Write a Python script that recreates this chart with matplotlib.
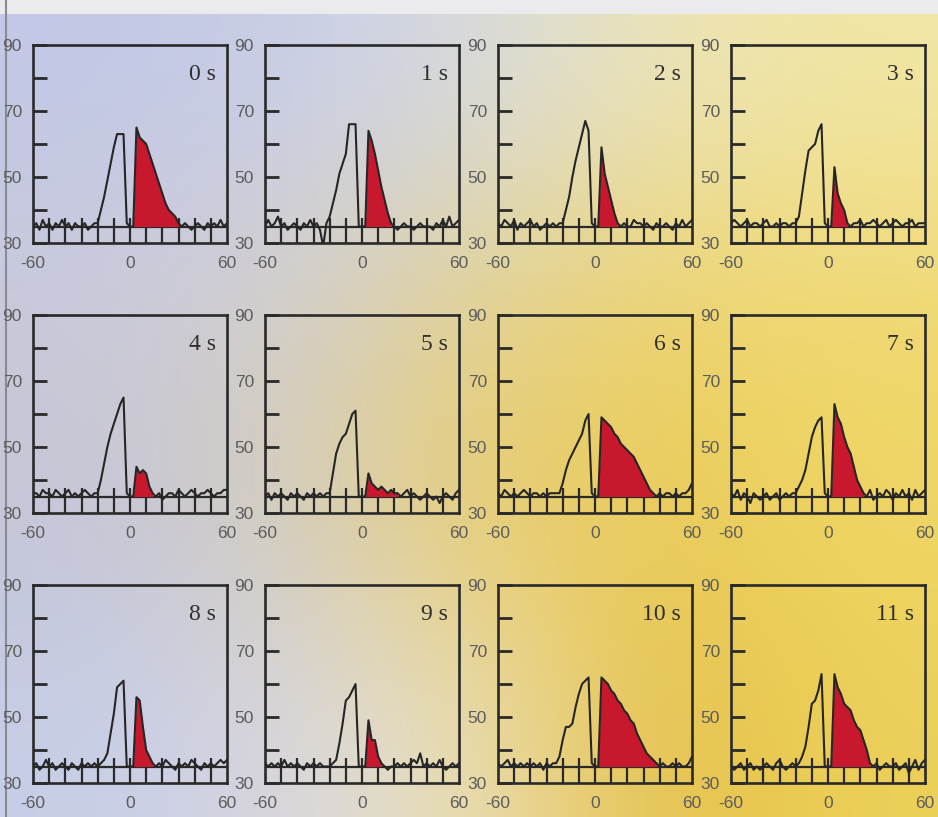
import numpy as np
import matplotlib.pyplot as plt
from matplotlib.patches import Rectangle

# time bins (s) from -60 to 60, step 2
x = np.arange(-60, 61, 2)

labels = ['0 s', '1 s', '2 s', '3 s', '4 s', '5 s', '6 s', '7 s', '8 s', '9 s', '10 s', '11 s']

# end of the filled (red) response for each panel
resp_end = [30, 18, 14, 12, 14, 22, 36, 22, 14, 12, 38, 26]

rate_0 = [35, 36, 34, 37, 35, 36, 34, 36, 35, 37,
          35, 36, 34, 36, 35, 35, 36, 34, 35, 36,
          36, 40, 44, 49, 54, 59, 63, 63, 63, 36,
          35, 35, 65, 62, 61, 60, 57, 54, 51, 48,
          45, 42, 40, 39, 38, 36, 35, 36, 35, 34,
          35, 36, 35, 34, 36, 35, 36, 35, 37, 35,
          36]
rate_1 = [35, 37, 35, 36, 38, 35, 36, 34, 35, 36,
          35, 34, 36, 35, 37, 35, 36, 34, 29, 36,
          38, 42, 46, 51, 54, 57, 66, 66, 66, 35,
          35, 35, 64, 61, 57, 52, 47, 43, 39, 36,
          35, 34, 35, 36, 35, 35, 34, 35, 36, 35,
          35, 35, 34, 36, 35, 37, 35, 38, 35, 36,
          37]
rate_2 = [36, 35, 37, 36, 35, 37, 34, 36, 35, 36,
          37, 35, 36, 34, 35, 36, 35, 36, 35, 36,
          36, 40, 44, 50, 55, 59, 63, 67, 64, 36,
          35, 35, 59, 51, 47, 43, 39, 36, 35, 36,
          35, 35, 37, 36, 36, 35, 36, 35, 34, 36,
          35, 35, 36, 35, 34, 36, 35, 37, 35, 36,
          37]
rate_3 = [36, 37, 36, 35, 36, 37, 35, 36, 36, 35,
          36, 37, 35, 35, 36, 35, 36, 36, 35, 36,
          36, 38, 45, 52, 58, 59, 60, 64, 66, 36,
          35, 35, 53, 45, 42, 40, 36, 35, 36, 36,
          37, 35, 36, 36, 37, 36, 35, 36, 37, 35,
          36, 37, 36, 35, 36, 36, 37, 35, 36, 36,
          36]
rate_4 = [36, 36, 35, 37, 36, 36, 35, 37, 36, 35,
          36, 37, 35, 36, 35, 36, 37, 36, 35, 36,
          36, 40, 45, 50, 54, 57, 60, 63, 65, 36,
          35, 35, 44, 42, 43, 42, 38, 36, 35, 36,
          34, 35, 36, 36, 35, 37, 36, 35, 36, 37,
          36, 35, 36, 36, 37, 36, 35, 36, 36, 37,
          37]
rate_5 = [35, 36, 34, 36, 35, 36, 35, 34, 36, 35,
          36, 35, 34, 36, 35, 36, 35, 36, 35, 36,
          36, 42, 48, 51, 53, 54, 57, 60, 61, 35,
          35, 35, 42, 39, 38, 37, 38, 37, 36, 37,
          36, 36, 35, 36, 37, 35, 36, 35, 34, 35,
          36, 35, 34, 35, 33, 35, 36, 35, 34, 36,
          37]
rate_6 = [36, 35, 37, 36, 35, 36, 35, 36, 37, 36,
          35, 36, 36, 35, 36, 35, 36, 36, 36, 36,
          39, 43, 46, 48, 50, 52, 54, 58, 60, 36,
          35, 35, 59, 58, 57, 56, 54, 53, 51, 50,
          49, 48, 47, 45, 43, 41, 39, 37, 36, 35,
          36, 35, 36, 36, 35, 36, 35, 36, 36, 37,
          39]
rate_7 = [36, 35, 37, 34, 36, 35, 33, 36, 35, 34,
          35, 36, 34, 35, 36, 34, 35, 36, 35, 36,
          36, 38, 40, 43, 48, 53, 56, 58, 59, 36,
          35, 35, 63, 59, 57, 53, 50, 48, 44, 40,
          38, 36, 35, 37, 34, 35, 36, 35, 37, 36,
          34, 36, 35, 37, 35, 36, 34, 37, 35, 36,
          37]
rate_8 = [35, 36, 34, 35, 37, 35, 36, 34, 35, 36,
          35, 34, 36, 35, 34, 36, 35, 36, 35, 36,
          35, 36, 37, 39, 45, 51, 59, 60, 61, 35,
          35, 35, 56, 55, 47, 40, 38, 36, 35, 36,
          35, 37, 36, 35, 34, 36, 35, 36, 35, 37,
          36, 35, 34, 36, 35, 36, 35, 36, 37, 36,
          37]
rate_9 = [36, 35, 36, 35, 36, 35, 37, 35, 36, 35,
          36, 35, 34, 36, 35, 36, 35, 36, 35, 35,
          35, 36, 37, 42, 48, 55, 56, 58, 60, 35,
          35, 35, 49, 43, 43, 38, 36, 35, 34, 35,
          35, 36, 35, 36, 35, 36, 37, 36, 39, 35,
          36, 35, 36, 35, 37, 35, 34, 35, 36, 35,
          36]
rate_10 = [36, 35, 36, 37, 35, 36, 35, 36, 35, 36,
           35, 36, 35, 36, 34, 36, 35, 36, 36, 38,
           43, 47, 47, 48, 53, 57, 60, 61, 62, 36,
           35, 35, 62, 61, 60, 58, 57, 55, 54, 52,
           51, 49, 48, 45, 43, 41, 39, 38, 37, 36,
           35, 36, 35, 35, 36, 35, 36, 35, 35, 36,
           38]
rate_11 = [35, 34, 35, 36, 34, 35, 36, 34, 35, 34,
           35, 36, 35, 34, 36, 37, 35, 34, 35, 36,
           35, 36, 38, 41, 47, 54, 55, 58, 63, 35,
           35, 35, 63, 59, 57, 54, 53, 52, 49, 47,
           46, 43, 40, 36, 35, 36, 34, 35, 36, 35,
           35, 36, 34, 35, 36, 33, 35, 37, 34, 36,
           37]

rates = [rate_0, rate_1, rate_2, rate_3, rate_4, rate_5,
         rate_6, rate_7, rate_8, rate_9, rate_10, rate_11]

baseline = 35
comb_x = [-50, -40, -30, -20, -10, 0, 10, 20, 30, 40, 50]

W, H = 938, 817
fig = plt.figure(figsize=(W / 100, H / 100), dpi=100)

# scanned-page background: blue-lavender on the left, yellow on the right
bg = np.array([
    [[194, 200, 230], [200, 205, 232], [214, 218, 226], [236, 228, 185], [241, 230, 165]],
    [[202, 202, 218], [212, 208, 208], [228, 210, 145], [236, 210, 105], [240, 216, 112]],
    [[196, 196, 214], [210, 204, 190], [232, 204, 108], [234, 202, 88], [240, 214, 100]],
    [[198, 206, 232], [216, 214, 226], [236, 226, 186], [228, 190, 70], [236, 208, 90]],
]) / 255.0
bg_ax = fig.add_axes([0, 0, 1, 1], zorder=-10)
bg_ax.imshow(bg, extent=[0, 1, 0, 1], aspect='auto', interpolation='bicubic')
bg_ax.set_xlim(0, 1)
bg_ax.set_ylim(0, 1)
bg_ax.axis('off')
bg_ax.add_patch(Rectangle((0, 1 - 14 / H), 1, 14 / H, color='#ebebee', lw=0))
bg_ax.axvline(6 / W, color='#8a8a96', lw=1.5)

col_left = [33, 265, 498, 731]
row_top = [45, 315, 585]
pw, ph = 194, 198

for i in range(12):
    r, c = divmod(i, 4)
    ax = fig.add_axes([col_left[c] / W, (H - row_top[r] - ph) / H, pw / W, ph / H])
    ax.set_facecolor('none')
    y = np.array(rates[i])

    mask = (x >= 2) & (x <= resp_end[i])
    ax.fill_between(x, baseline, y, where=mask, color='#c8182e', lw=0, zorder=2)
    ax.plot(x, y, color='#262626', lw=1.5, zorder=3)

    ax.axhline(baseline, color='#2a2a2a', lw=1.6, zorder=1)
    ax.vlines(comb_x, 30, 37.5, color='#2a2a2a', lw=1.6, zorder=1)

    ax.text(53, 81, labels[i], ha='right', va='center', fontsize=17,
            family='Liberation Serif', color='#303030')

    ax.set_xlim(-60, 60)
    ax.set_ylim(30, 90)
    ax.set_xticks([-60, 0, 60])
    ax.set_xticklabels(['-60', '0', '60'])
    ax.set_yticks([30, 50, 70, 90])
    ax.set_yticks([40, 60, 80], minor=True)
    ax.tick_params(axis='y', which='both', direction='in', length=10, width=2,
                   color='#2a2a2a', pad=8)
    ax.tick_params(axis='x', length=0, pad=9)
    ax.tick_params(labelsize=12.5, labelcolor='#5c5c5c')
    for lab in ax.get_xticklabels() + ax.get_yticklabels():
        lab.set_family('Liberation Sans')
    for s in ax.spines.values():
        s.set_color('#2a2a2a')
        s.set_linewidth(1.9)

fig.savefig('out.png', dpi=100)
